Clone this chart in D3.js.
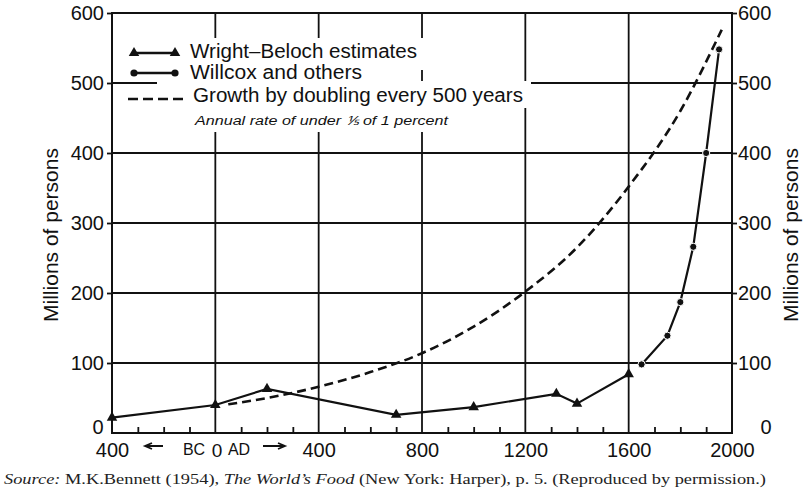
<!DOCTYPE html>
<html><head><meta charset="utf-8">
<script src="https://cdn.jsdelivr.net/npm/d3@7"></script>
<style>body{margin:0;background:#fff}svg{display:block}</style>
</head><body><svg id="c" width="806" height="492"></svg>
<script>
// ---- data ----
const wbYears = [-400, 0, 200, 700, 1000, 1320, 1400, 1600];
const wbValues = [22, 40, 63, 26, 37, 56, 42, 84];
const wcYears = [1650, 1750, 1800, 1850, 1900, 1950];
const wcValues = [98, 139, 187, 266, 400, 548];
const growthYears = [50, 200, 400, 600, 800, 1000, 1200, 1400, 1600, 1800, 1960];
const growthValues = [41, 50, 66, 87, 114, 152, 202, 265, 352, 460, 576];
const xMajorTicks = [-400, 400, 800, 1200, 1600, 2000];
const xMinorTicks = [-300, -200, -100, 100, 200, 300, 500, 600, 700, 900, 1000, 1100, 1300, 1400, 1500, 1700, 1800, 1900];
const yTicks = [100, 200, 300, 400, 500, 600];
const xGrid = [0, 400, 800, 1200, 1600];
const yGrid = [100, 200, 300, 400, 500];
const legendLabels = ["Wright\u2013Beloch estimates", "Willcox and others", "Growth by doubling every 500 years"];
const legendNote = "Annual rate of under \u2155 of 1 percent";
const yTitle = "Millions of persons";
const eraLabels = ["BC", "0", "AD"];

const INK = "#111";
const svg = d3.select("#c");
svg.append("rect").attr("width", 806).attr("height", 492).attr("fill", "#fff");

const L = 112, R = 732, T = 13, B = 433;
const x = d3.scaleLinear().domain([-400, 2000]).range([L, R]);
const y = d3.scaleLinear().domain([0, 600]).range([B, T]);

// grid
const g = svg.append("g");
g.selectAll("line.v").data(xGrid).join("line")
  .attr("x1", d => x(d)).attr("x2", d => x(d)).attr("y1", T).attr("y2", B)
  .attr("stroke", INK).attr("stroke-width", 1.8);
g.selectAll("line.h").data(yGrid).join("line")
  .attr("x1", L).attr("x2", R).attr("y1", d => y(d)).attr("y2", d => y(d))
  .attr("stroke", INK).attr("stroke-width", 1.8);

// legend masks (white boxes behind legend text)
const masks = [[125, 38, 301, 32], [125, 62, 245, 19], [157, 81, 374, 27], [157, 108, 295, 24]];
svg.selectAll("rect.mask").data(masks).join("rect")
  .attr("x", d => d[0]).attr("y", d => d[1]).attr("width", d => d[2]).attr("height", d => d[3])
  .attr("fill", "#fff");

// frame
svg.append("rect").attr("x", L).attr("y", T).attr("width", R - L).attr("height", B - T)
  .attr("fill", "none").attr("stroke", INK).attr("stroke-width", 2);

// minor ticks on bottom axis (pointing inward)
const minorAxis = d3.axisTop(x).tickValues(xMinorTicks).tickSize(6).tickFormat("");
const ma = svg.append("g").attr("transform", `translate(0,${B})`).call(minorAxis);
ma.select(".domain").remove();
ma.selectAll("line").attr("stroke", INK).attr("stroke-width", 1.8);

// bottom labels
const bx = d3.axisBottom(x).tickValues(xMajorTicks).tickSize(0).tickPadding(10)
  .tickFormat(d => Math.abs(d));
const ba = svg.append("g").attr("transform", `translate(0,${B})`).call(bx);
ba.select(".domain").remove();
ba.selectAll("text").attr("font-family", "Liberation Sans, Arial, sans-serif")
  .attr("font-size", 20).attr("fill", INK).attr("dy", "0.72em");

// era labels
const eraX = [194, 217, 239];
const eraY = [455, 457, 455];
const eraSize = [16, 19, 16];
svg.selectAll("text.era").data(eraLabels).join("text")
  .attr("x", (d, i) => eraX[i]).attr("y", (d, i) => eraY[i])
  .attr("text-anchor", "middle")
  .attr("font-family", "Liberation Sans, Arial, sans-serif")
  .attr("font-size", (d, i) => eraSize[i]).attr("fill", INK).text(d => d);
// era arrows
const arrows = [[163, 145], [263, 285]];
arrows.forEach(([a, b]) => {
  const dir = Math.sign(b - a);
  svg.append("path")
    .attr("d", `M${a},446 L${b},446 M${b - dir * 7},443 L${b},446 L${b - dir * 7},449`)
    .attr("fill", "none").attr("stroke", INK).attr("stroke-width", 1.8);
});

// left axis
const la = svg.append("g").attr("transform", `translate(${L},0)`)
  .call(d3.axisLeft(y).tickValues(yTicks).tickSize(5).tickPadding(3));
la.select(".domain").remove();
la.selectAll("line").attr("stroke", INK).attr("stroke-width", 1.8);
la.selectAll("text").attr("font-family", "Liberation Sans, Arial, sans-serif")
  .attr("font-size", 20).attr("fill", INK);
// right axis
const ra = svg.append("g").attr("transform", `translate(${R},0)`)
  .call(d3.axisRight(y).tickValues(yTicks).tickSize(5).tickPadding(1));
ra.select(".domain").remove();
ra.selectAll("line").attr("stroke", INK).attr("stroke-width", 1.8);
ra.selectAll("text").attr("font-family", "Liberation Sans, Arial, sans-serif")
  .attr("font-size", 20).attr("fill", INK);
// zero labels
const zeroLabels = [{x: 98, a: "middle"}, {x: 766, a: "middle"}];
svg.selectAll("text.zero").data(zeroLabels).join("text")
  .attr("x", d => d.x).attr("y", y(0) + 1).attr("text-anchor", d => d.a)
  .attr("font-family", "Liberation Sans, Arial, sans-serif").attr("font-size", 20)
  .attr("fill", INK).text("0");

// axis titles
[58, 798].forEach(px => {
  svg.append("text").attr("transform", `translate(${px},235) rotate(-90)`)
    .attr("text-anchor", "middle").attr("font-family", "Liberation Sans, Arial, sans-serif")
    .attr("font-size", 21).attr("fill", INK).text(yTitle);
});

// growth curve (dashed)
const line = d3.line().x(d => x(d[0])).y(d => y(d[1]));
svg.append("path").datum(d3.zip(growthYears, growthValues))
  .attr("d", line.curve(d3.curveMonotoneX)).attr("fill", "none")
  .attr("stroke", INK).attr("stroke-width", 2.6).attr("stroke-dasharray", "9,5");

// Wright-Beloch
const line2 = d3.line().x(d => x(d[0])).y(d => y(d[1]));
const wb = d3.zip(wbYears, wbValues);
svg.append("path").datum(wb).attr("d", line2).attr("fill", "none")
  .attr("stroke", INK).attr("stroke-width", 2.2);
const tri = d3.symbol().type(d3.symbolTriangle).size(48);
svg.selectAll("path.tri").data(wb).join("path")
  .attr("d", tri).attr("transform", d => `translate(${x(d[0])},${y(d[1])})`).attr("fill", INK);

// Willcox
const wc = d3.zip(wcYears, wcValues);
svg.append("path").datum(wc).attr("d", line2).attr("fill", "none")
  .attr("stroke", INK).attr("stroke-width", 2.2);
svg.selectAll("circle.wc").data(wc).join("circle")
  .attr("cx", d => x(d[0])).attr("cy", d => y(d[1])).attr("r", 3.6)
  .attr("fill", INK).attr("stroke", "#fff").attr("stroke-width", 1);

// legend
const lg = svg.append("g");
lg.append("line").attr("x1", 134).attr("x2", 176).attr("y1", 53).attr("y2", 53).attr("stroke", INK).attr("stroke-width", 2.4);
lg.selectAll("path.lt").data([134, 175]).join("path").attr("d", tri)
  .attr("transform", d => `translate(${d},53)`).attr("fill", INK);
lg.append("line").attr("x1", 134).attr("x2", 176).attr("y1", 73).attr("y2", 73).attr("stroke", INK).attr("stroke-width", 2.4);
lg.selectAll("circle.lc").data([134, 175]).join("circle").attr("cx", d => d).attr("cy", 73).attr("r", 3.6).attr("fill", INK);
lg.append("line").attr("x1", 128).attr("x2", 184).attr("y1", 99).attr("y2", 99).attr("stroke", INK)
  .attr("stroke-width", 2.4).attr("stroke-dasharray", "10,5");
const lgX = [190, 190, 193], lgY = [58, 79, 102], lgW = [227, 172, 330];
lg.selectAll("text.lt").data(legendLabels).join("text")
  .attr("x", (d, i) => lgX[i]).attr("y", (d, i) => lgY[i])
  .attr("textLength", (d, i) => lgW[i]).attr("lengthAdjust", "spacingAndGlyphs")
  .attr("font-family", "Liberation Sans, Arial, sans-serif").attr("font-size", 20)
  .attr("fill", INK).text(d => d);
lg.append("text").attr("x", 195).attr("y", 125).attr("textLength", 253).attr("lengthAdjust", "spacingAndGlyphs")
  .attr("font-family", "Liberation Sans, Arial, sans-serif").attr("font-size", 12.5)
  .attr("font-style", "italic").attr("fill", INK).text(legendNote);

// source line
const src = svg.append("text").attr("x", 4).attr("y", 484).attr("textLength", 762)
  .attr("lengthAdjust", "spacingAndGlyphs")
  .attr("font-family", "Liberation Serif, Times New Roman, serif").attr("font-size", 15).attr("fill", "#222");
src.append("tspan").attr("font-style", "italic").text("Source:");
src.append("tspan").text(" M.K.Bennett (1954), ");
src.append("tspan").attr("font-style", "italic").text("The World\u2019s Food");
src.append("tspan").text(" (New York: Harper), p. 5. (Reproduced by permission.)");
</script></body></html>
